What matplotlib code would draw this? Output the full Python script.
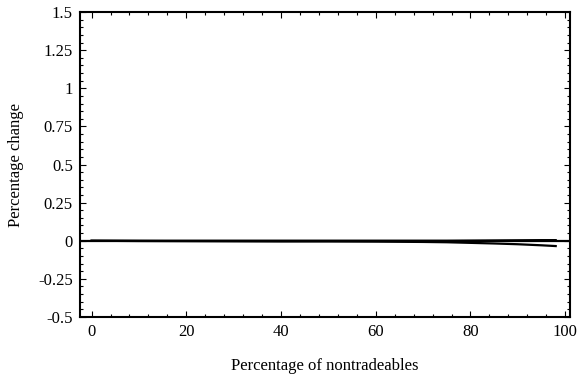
import matplotlib.pyplot as plt
from matplotlib.ticker import MultipleLocator

plt.rcParams['font.family'] = ['Liberation Serif', 'DejaVu Serif']

# percentage of nontradeables
share = [0, 10, 20, 30, 40, 50, 60, 70, 75, 80, 85, 90, 95, 98]
# percentage change, two cases
base_change = [0, 0, 0, 0, 0, 0, 0, 0, 0, 0.001, 0.002, 0.003, 0.004, 0.004]
alt_change = [0, -0.002, -0.003, -0.004, -0.005, -0.005, -0.006, -0.008,
              -0.010, -0.014, -0.018, -0.023, -0.030, -0.035]

fig = plt.figure(figsize=(5.78, 3.8), dpi=100)
ax = fig.add_axes([0.138, 0.166, 0.848, 0.802])

ax.axhline(0, color='black', lw=1.6)
ax.plot(share, base_change, color='black', lw=1.6)
ax.plot(share, alt_change, color='black', lw=1.6)

ax.set_xlim(-2.5, 101)
ax.set_ylim(-0.5, 1.5)
ax.xaxis.set_major_locator(MultipleLocator(20))
ax.xaxis.set_minor_locator(MultipleLocator(4))
ax.yaxis.set_minor_locator(MultipleLocator(0.05))
ax.set_yticks([-0.5, -0.25, 0, 0.25, 0.5, 0.75, 1, 1.25, 1.5])
ax.set_yticklabels(['-0.5', '-0.25', '0', '0.25', '0.5', '0.75', '1', '1.25', '1.5'])

ax.tick_params(which='both', direction='in', top=True, right=True, width=0.8)
ax.tick_params(which='major', length=4, labelsize=12, pad=5)
ax.tick_params(which='minor', length=2)
for s in ax.spines.values():
    s.set_linewidth(1.5)

ax.set_xlabel('Percentage of nontradeables', fontsize=12, labelpad=13)
ax.set_ylabel('Percentage change', fontsize=12, labelpad=10)

plt.savefig('out.png', dpi=100)
